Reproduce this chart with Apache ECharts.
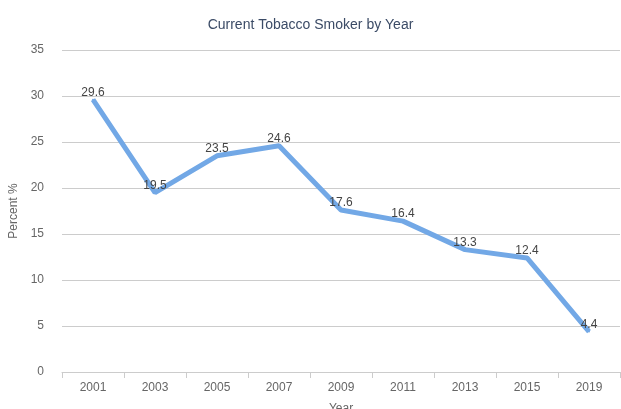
<!DOCTYPE html>
<html>
<head>
<meta charset="utf-8">
<script src="https://cdn.jsdelivr.net/npm/echarts@6/dist/echarts.min.js"></script>
<style>html,body{margin:0;padding:0;background:#fff}#c{width:621px;height:409px}</style>
</head>
<body>
<div id="c"></div>
<script>
const years = ['2001','2003','2005','2007','2009','2011','2013','2015','2019'];
const percent = [29.6, 19.5, 23.5, 24.6, 17.6, 16.4, 13.3, 12.4, 4.4];
const yTicks = {min: 0, max: 35, interval: 5};

const chart = echarts.init(document.getElementById('c'));
chart.setOption({
  animation: false,
  backgroundColor: '#fff',
  textStyle: {fontFamily: 'Liberation Sans, Arial, sans-serif'},
  title: {
    text: 'Current Tobacco Smoker by Year',
    left: 'center', top: 13,
    textStyle: {fontSize: 14, fontWeight: 'normal', color: '#3b4b66', fontFamily: 'Liberation Sans, Arial, sans-serif'}
  },
  grid: {left: 62, right: 1, top: 50, bottom: 37, outerBoundsMode: 'none', containLabel: false},
  xAxis: {
    type: 'category', data: years, boundaryGap: true,
    name: 'Year', nameLocation: 'middle', nameGap: 31,
    nameTextStyle: {color: '#666', fontSize: 12},
    axisLine: {lineStyle: {color: '#ccc'}},
    axisTick: {show: true, length: 6, lineStyle: {color: '#ccc'}},
    axisLabel: {color: '#666', fontSize: 12, margin: 10}
  },
  yAxis: {
    type: 'value', min: yTicks.min, max: yTicks.max, interval: yTicks.interval,
    name: 'Percent %', nameLocation: 'middle', nameGap: 36,
    nameTextStyle: {color: '#666', fontSize: 12},
    axisLine: {show: false}, axisTick: {show: false},
    splitLine: {lineStyle: {color: '#ccc'}},
    axisLabel: {color: '#666', fontSize: 12, margin: 18}
  },
  series: [{
    type: 'line', data: percent,
    symbol: 'circle', symbolSize: 2,
    itemStyle: {color: '#72a8e6'},
    lineStyle: {color: '#72a8e6', width: 5},
    label: {show: true, position: 'top', distance: 0, color: '#444', fontSize: 12}
  }]
});
</script>
</body>
</html>
